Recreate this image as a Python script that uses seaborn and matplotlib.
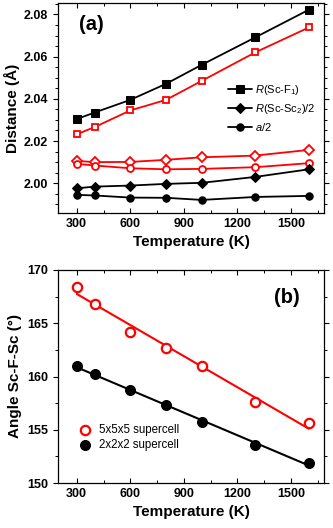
import matplotlib
matplotlib.use('Agg')
import matplotlib.pyplot as plt
from matplotlib.ticker import MultipleLocator, FormatStrFormatter
from matplotlib.collections import PathCollection
import seaborn as sns

sns.set_style('ticks')
plt.rcParams['font.family'] = ['Liberation Sans', 'DejaVu Sans']
plt.rcParams['mathtext.fontset'] = 'custom'
plt.rcParams['mathtext.rm'] = 'Liberation Sans'
plt.rcParams['mathtext.it'] = 'Liberation Sans:italic'
for k in ['text.color', 'axes.labelcolor', 'xtick.color', 'ytick.color', 'axes.edgecolor']:
    plt.rcParams[k] = 'black'


# Data
T = [300, 400, 600, 800, 1000, 1300, 1600]

# (a) distances, 2x2x2 supercell (black, filled)
r_scf_2 = [2.0304, 2.0335, 2.0395, 2.0471, 2.0561, 2.0691, 2.0822]
r_scsc_2 = [1.9976, 1.9984, 1.9989, 1.9997, 2.0002, 2.0030, 2.0066]
a_half_2 = [1.9945, 1.9942, 1.9932, 1.9931, 1.9921, 1.9935, 1.9940]
# (a) distances, 5x5x5 supercell (red, open)
r_scf_5 = [2.0232, 2.0266, 2.0345, 2.0395, 2.0485, 2.0620, 2.0738]
r_scsc_5 = [2.0106, 2.0100, 2.0101, 2.0111, 2.0123, 2.0131, 2.0158]
a_half_5 = [2.0092, 2.0084, 2.0071, 2.0066, 2.0068, 2.0076, 2.0095]

# (b) Sc-F-Sc angle
angle_5 = [168.4, 166.8, 164.2, 162.7, 161.0, 157.6, 155.6]
angle_2 = [161.0, 160.2, 158.7, 157.3, 155.7, 153.6, 151.9]

labels_a = [r'$\it{R}$(Sc-F$_1$)', r'$\it{R}$(Sc-Sc$_2$)/2', r'$\it{a}$/2']
labels_b = ['5x5x5 supercell', '2x2x2 supercell']

RED = '#ff0000'
fig = plt.figure(figsize=(3.33, 5.28), dpi=100)
ax1 = fig.add_axes([58/333, 315/528, 266/333, 210/528])
ax2 = fig.add_axes([58/333, 45/528, 266/333, 213/528])

## Panel (a)
for y, m in zip([r_scf_5, r_scsc_5, a_half_5], ['s', 'D', 'o']):
    sns.lineplot(x=T, y=y, color=RED, marker=m, mfc='white', mec=RED, mew=1.3,
                 ms=5 if m != 'D' else 4.8, lw=1.3, ax=ax1)
for y, m, lab in zip([r_scf_2, r_scsc_2, a_half_2], ['s', 'D', 'o'], labels_a):
    sns.lineplot(x=T, y=y, color='black', marker=m, mfc='black', mec='black',
                 ms=5.3, lw=1.3, label=lab, ax=ax1)

ax1.set_xlim(195, 1685)
ax1.set_ylim(1.9859, 2.0854)
ax1.xaxis.set_major_locator(MultipleLocator(300))
ax1.xaxis.set_minor_locator(MultipleLocator(150))
ax1.yaxis.set_major_locator(MultipleLocator(0.02))
ax1.yaxis.set_minor_locator(MultipleLocator(0.005))
ax1.yaxis.set_major_formatter(FormatStrFormatter('%.2f'))
ax1.set_xlabel('Temperature (K)', fontsize=11, fontweight='bold')
ax1.set_ylabel('Distance (Å)', fontsize=11, fontweight='bold', labelpad=3)
ax1.text(0.08, 0.9, '(a)', transform=ax1.transAxes, fontsize=14.5,
         fontweight='bold', va='center')
ax1.legend(loc='center left', bbox_to_anchor=(0.6, 0.5), frameon=False,
           fontsize=8, handlelength=2.2, handletextpad=0.3, labelspacing=0.45)

## Panel (b)
sns.regplot(x=T, y=angle_5, ci=None, color=RED, ax=ax2, marker='o',
            scatter_kws=dict(s=45, facecolors='white', edgecolors=RED,
                             linewidths=1.6, alpha=1, zorder=3),
            line_kws=dict(lw=1.5), label=labels_b[0])
sns.regplot(x=T, y=angle_2, ci=None, color='black', ax=ax2, marker='o',
            scatter_kws=dict(s=48, color='black', alpha=1, zorder=3),
            line_kws=dict(lw=1.5), label=labels_b[1])

ax2.set_xlim(195, 1685)
ax2.set_ylim(150, 170)
ax2.xaxis.set_major_locator(MultipleLocator(300))
ax2.xaxis.set_minor_locator(MultipleLocator(150))
ax2.yaxis.set_major_locator(MultipleLocator(5))
ax2.yaxis.set_minor_locator(MultipleLocator(2.5))
ax2.set_xlabel('Temperature (K)', fontsize=11, fontweight='bold')
ax2.set_ylabel('Angle Sc-F-Sc (°)', fontsize=11, fontweight='bold', labelpad=4)
ax2.text(0.91, 0.87, '(b)', transform=ax2.transAxes, fontsize=14.5,
         fontweight='bold', va='center', ha='right')
h, l = ax2.get_legend_handles_labels()
h = [x for x in h if isinstance(x, PathCollection)]
ax2.legend(h, labels_b, loc='lower left', bbox_to_anchor=(0.02, 0.1), frameon=False,
           fontsize=8.3, handletextpad=0.2, labelspacing=0.3)

for ax in (ax1, ax2):
    for s in ax.spines.values():
        s.set_linewidth(0.9)
        s.set_visible(True)
    ax.tick_params(axis='x', which='both', direction='in', top=True, bottom=True)
    ax.tick_params(axis='y', which='both', direction='out', left=True, right=True)
    ax.tick_params(which='major', length=3.5, width=0.8, labelsize=9)
    ax.tick_params(which='minor', length=2, width=0.7)
    for t in ax.get_xticklabels() + ax.get_yticklabels():
        t.set_fontweight('bold')

fig.savefig('out.png', dpi=100)
